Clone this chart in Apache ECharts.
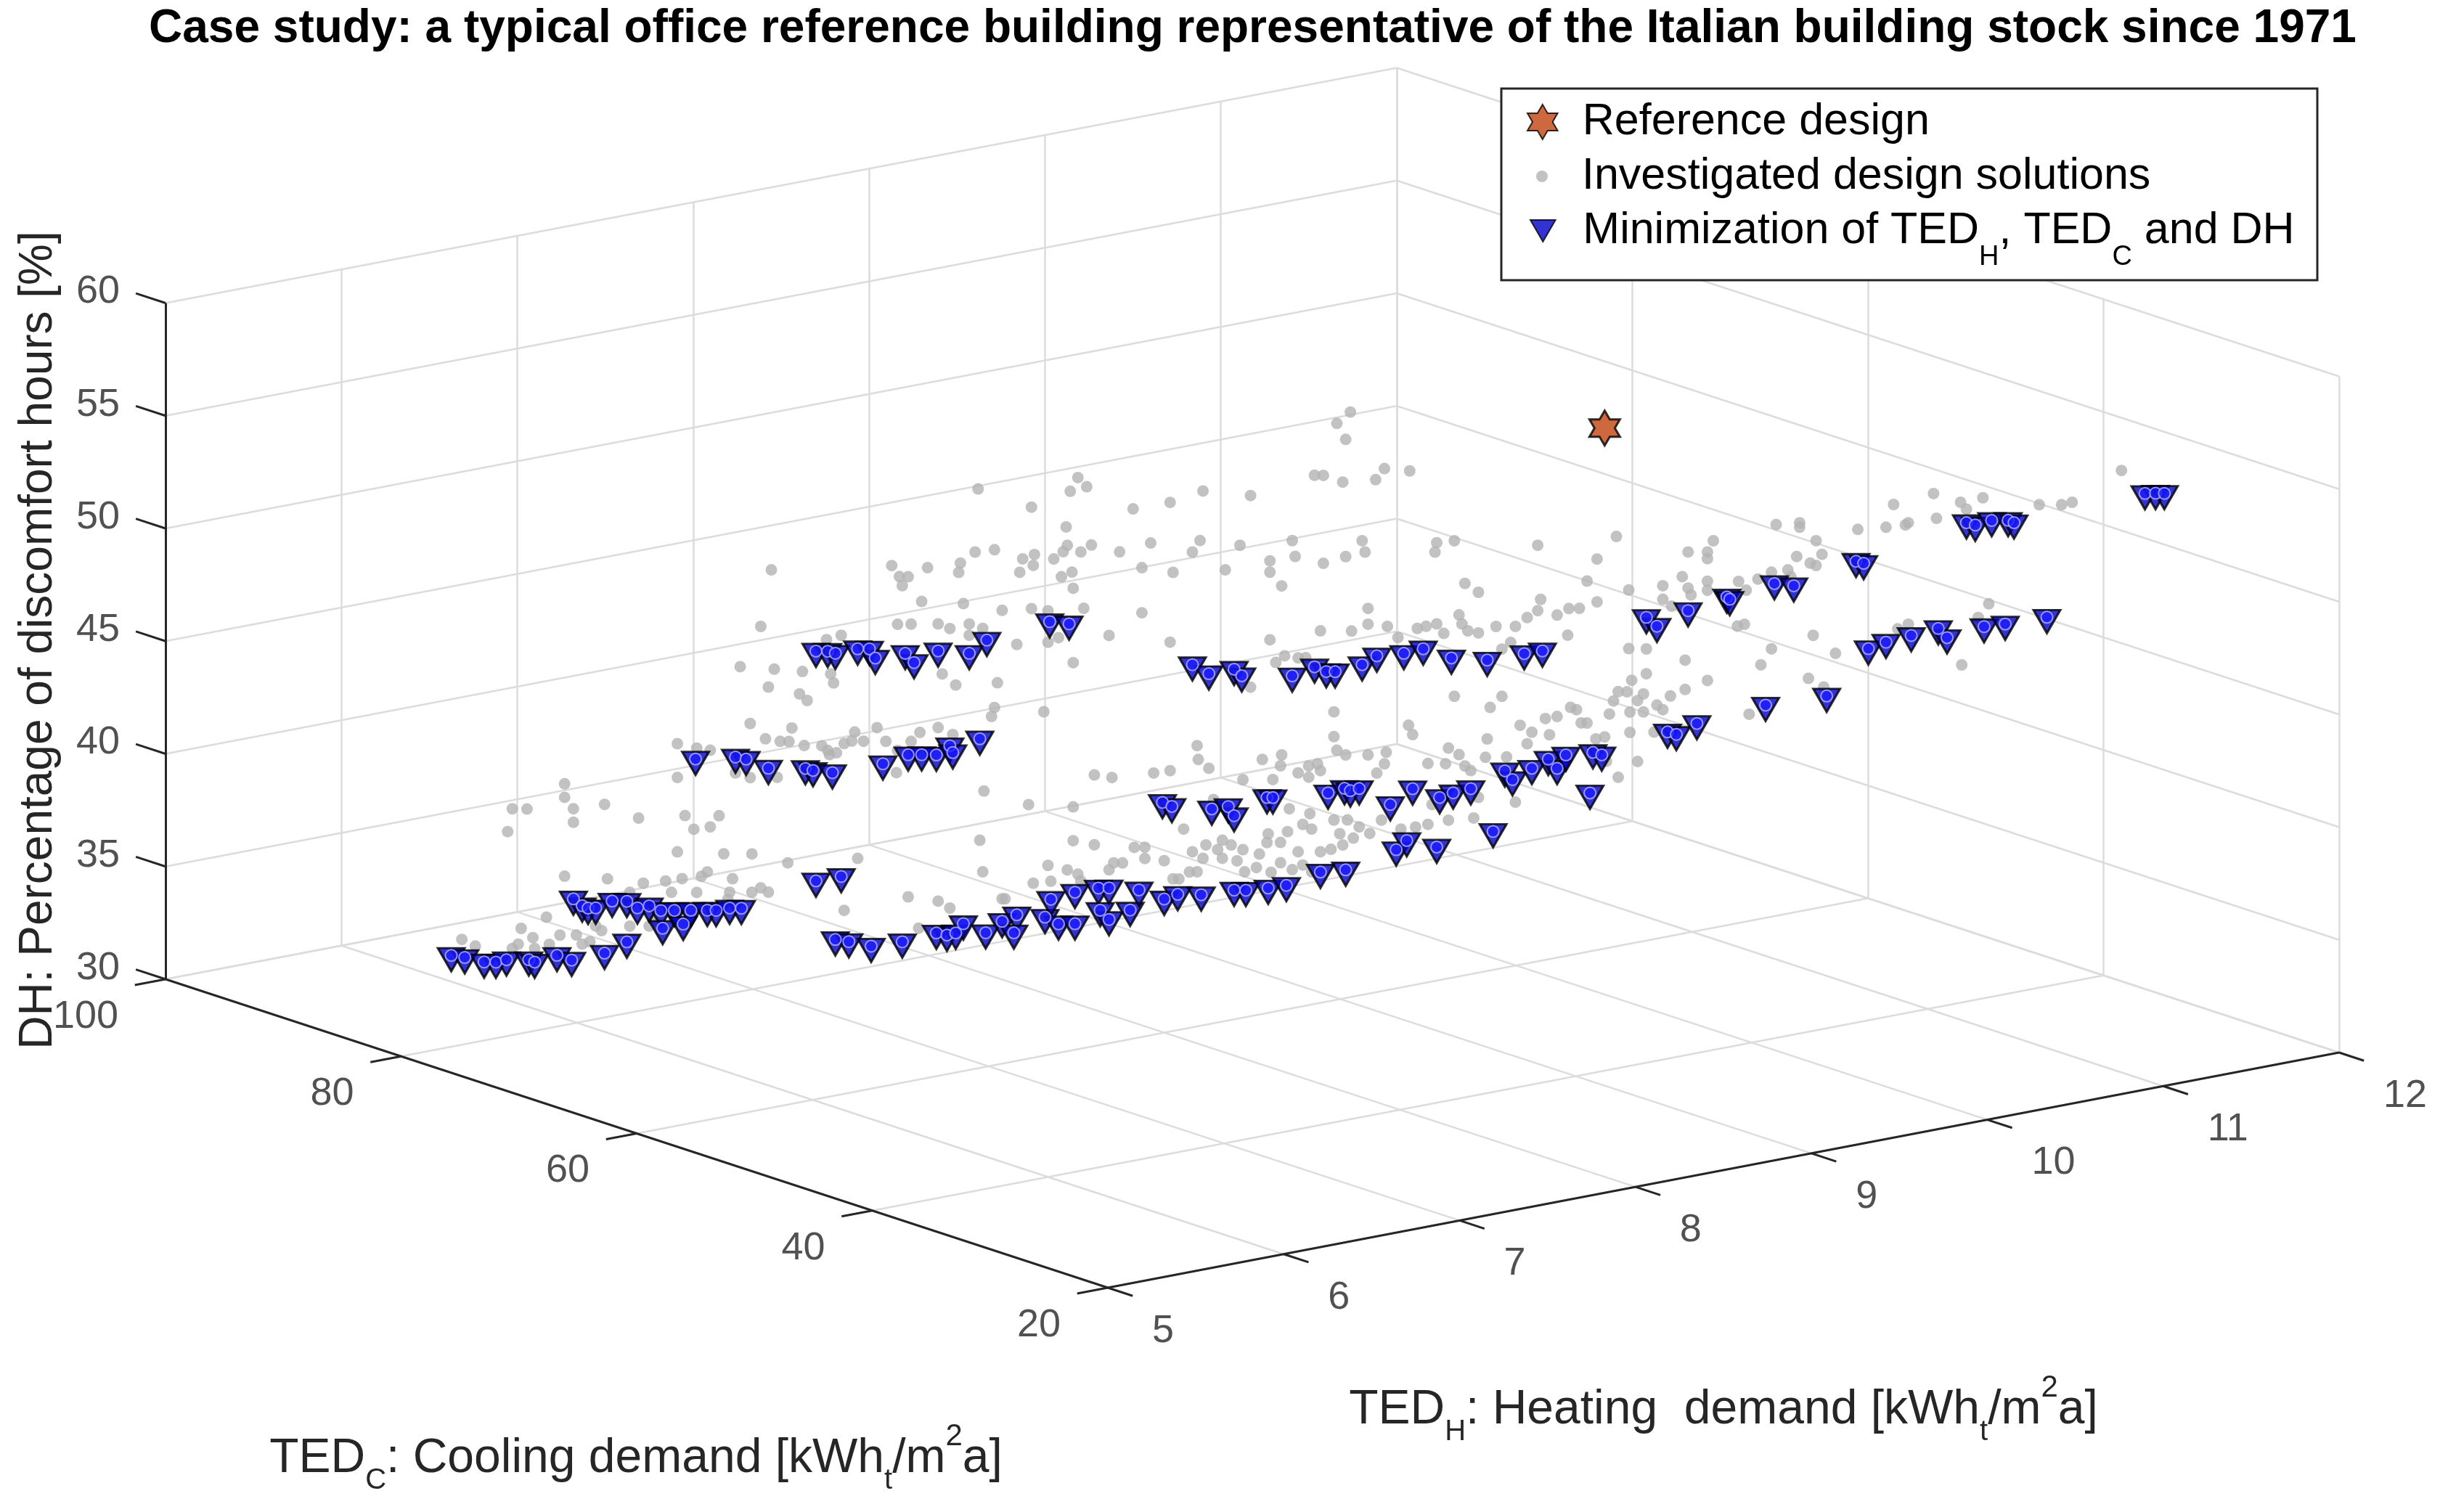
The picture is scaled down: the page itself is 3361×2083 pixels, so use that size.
<!DOCTYPE html>
<html>
<head>
<meta charset="utf-8">
<script src="https://cdn.jsdelivr.net/npm/echarts@6/dist/echarts.min.js"></script>
<style>
html,body{margin:0;padding:0;background:#ffffff;}
#chart{width:3361px;height:2083px;}
</style>
</head>
<body>
<div id="chart"></div>
<script>
// ---------------- data (TED_C [kWh/m2a], TED_H [kWh/m2a], DH [%]) ----------------
const tedCTicks = [20, 40, 60, 80, 100];
const tedHTicks = [5, 6, 7, 8, 9, 10, 11, 12];
const dhTicks = [30, 35, 40, 45, 50, 55, 60];

const referenceDesign = [[48.9, 9.76, 56.1]];

const investigatedSolutions = [
[68.5,7.51,53.4],[68.0,7.57,50.7],[68.6,7.50,50.6],[69.1,7.45,50.1],[69.1,7.44,49.7],[70.1,7.33,49.9],[71.2,7.20,50.0],[71.0,7.23,49.5],
[70.7,7.26,49.5],[70.9,7.24,49.1],[70.3,7.31,48.4],[69.0,7.46,48.3],[67.8,7.60,48.0],[75.0,6.77,49.8],[75.3,6.73,47.3],[71.0,7.22,47.4],
[70.6,7.27,47.4],[69.8,7.37,47.4],[69.4,7.41,47.2],[68.8,7.48,47.4],[68.8,7.48,46.9],[68.4,7.53,47.2],[72.8,7.02,46.9],[73.3,6.97,46.7],
[76.0,6.66,45.5],[74.9,6.78,45.4],[74.0,6.88,45.3],[73.1,6.98,45.2],[73.0,6.99,44.8],[75.1,6.76,44.6],[74.1,6.87,44.3],[73.9,6.90,44.0],
[69.6,7.38,45.2],[69.2,7.43,44.7],[67.9,7.58,44.8],[68.0,7.57,43.7],[68.1,7.56,43.3],[75.6,6.69,43.0],[74.3,6.84,42.8],[75.2,6.75,42.3],
[74.7,6.80,42.2],[74.4,6.83,42.2],[74.0,6.89,42.0],[73.4,6.95,42.0],[73.2,6.98,41.6],[72.9,7.00,41.7],[72.7,7.03,42.1],[72.5,7.06,42.2],
[72.4,7.07,42.6],[72.1,7.10,42.2],[71.7,7.15,42.8],[71.4,7.18,42.2],[71.0,7.22,41.8],[70.6,7.27,42.2],[70.3,7.30,42.6],[69.8,7.37,42.8],
[69.3,7.42,42.5],[73.2,6.97,41.8],[77.9,6.43,42.1],[77.3,6.50,41.9],[76.9,6.55,41.8],[77.9,6.43,40.6],[76.1,6.64,40.8],[75.6,6.69,40.6],
[74.8,6.79,40.6],[71.1,7.22,40.8],[68.3,7.53,40.0],[81.5,6.03,40.3],[81.5,6.03,39.7],[81.2,6.06,39.2],[81.2,6.06,38.6],[83.1,5.84,39.2],
[82.6,5.89,39.2],[83.2,5.82,38.2],[80.2,6.17,39.4],[79.1,6.29,38.8],[77.7,6.46,38.9],[77.4,6.49,38.3],[76.9,6.55,38.4],[76.6,6.58,38.9],
[77.9,6.43,37.3],[76.5,6.60,37.2],[75.6,6.70,37.2],[74.5,6.83,36.8],[72.3,7.08,37.0],[68.5,7.52,37.8],[68.4,7.53,36.4],[81.5,6.03,36.2],
[80.1,6.18,36.1],[79.0,6.31,35.9],[78.3,6.39,36.0],[77.8,6.45,36.1],[77.2,6.52,36.2],[77.0,6.54,36.4],[76.2,6.63,36.1],[77.3,6.50,35.5],
[78.1,6.41,35.5],[79.4,6.26,35.5],[76.3,6.62,35.5],[75.6,6.70,35.5],[75.3,6.73,35.7],[75.1,6.76,35.5],[76.3,6.61,35.2],[70.7,7.26,35.3],
[69.8,7.37,35.1],[69.4,7.41,34.8],[72.7,7.03,34.7],[67.8,7.60,35.2],[70.4,7.30,33.9],[82.0,5.96,34.4],[82.8,5.87,33.9],[82.4,5.91,33.5],
[81.6,6.01,33.6],[81.1,6.07,33.6],[80.9,6.09,33.2],[80.7,6.12,33.3],[80.3,6.16,33.8],[79.4,6.26,34.0],[80.5,6.14,34.0],[78.8,6.33,34.0],
[84.7,5.66,33.4],[84.3,5.71,33.1],[82.9,5.86,33.2],[82.4,5.92,33.0],[81.9,5.97,33.2],[83.1,5.84,33.0],[78.7,6.35,34.2],
[56.9,8.85,56.8],[57.3,8.80,56.3],[57.0,8.83,55.6],[58.0,8.72,54.0],[57.7,8.75,54.0],[57.1,8.82,53.7],[56.1,8.94,53.8],[55.8,8.97,54.3],
[55.0,9.06,54.2],[60.0,8.49,53.1],[61.5,8.32,53.3],[62.5,8.20,52.8],[63.7,8.07,52.5],[65.4,7.87,53.9],[65.1,7.90,53.5],[65.6,7.84,53.3],
[66.8,7.70,52.6],[65.8,7.83,51.7],[65.7,7.83,50.9],[65.9,7.82,50.6],[66.1,7.78,50.3],[66.7,7.71,50.5],[67.1,7.67,50.3],[67.2,7.66,49.7],
[66.8,7.71,50.0],[65.3,7.88,50.6],[65.0,7.92,50.9],[64.1,8.02,50.6],[63.1,8.13,51.0],[63.4,8.10,49.9],[62.4,8.21,49.7],[61.8,8.28,50.6],
[61.6,8.31,51.1],[60.8,8.40,49.8],[60.3,8.45,50.9],[58.7,8.64,51.1],[58.6,8.65,50.4],[59.4,8.56,50.2],[59.4,8.56,49.7],[59.0,8.60,49.1],
[57.7,8.75,50.1],[57.0,8.83,50.4],[56.5,8.89,51.1],[56.4,8.90,50.6],[54.2,9.16,51.0],[54.2,9.15,50.6],[53.6,9.22,51.1],[51.0,9.52,50.9],
[65.6,7.85,49.7],[65.9,7.81,49.5],[65.5,7.85,49.0],[65.2,7.89,48.1],[66.8,7.70,48.1],[66.3,7.76,48.0],[63.4,8.10,47.9],[64.4,7.98,46.9],
[62.5,8.20,46.6],[67.3,7.65,46.5],[66.0,7.80,46.8],[66.3,7.76,46.6],[65.5,7.85,45.7],[53.3,9.26,49.2],[52.9,9.31,48.8],[56.3,8.91,48.1],
[56.3,8.91,47.4],[56.8,8.85,47.1],[57.8,8.74,47.1],[59.4,8.56,46.7],[55.7,8.98,47.3],[55.4,9.02,46.8],[54.8,9.09,47.2],[54.5,9.12,47.3],
[54.2,9.16,47.4],[53.9,9.18,47.0],[53.5,9.24,47.8],[53.4,9.25,47.4],[53.2,9.27,47.1],[52.9,9.31,47.0],[52.3,9.37,47.3],[51.7,9.44,47.3],
[51.3,9.48,47.7],[51.0,9.52,48.0],[50.9,9.53,48.5],[50.4,9.59,47.8],[50.0,9.63,48.1],[50.1,9.63,46.9],[51.8,9.42,46.6],[52.1,9.39,46.3],
[58.9,8.61,46.0],[59.2,8.58,45.7],[58.5,8.66,45.9],[58.3,8.69,45.9],[60.0,8.49,44.6],[53.6,9.22,44.2],[52.1,9.39,44.2],[52.5,9.35,43.7],
[50.4,9.59,43.3],[50.8,9.55,43.2],[50.0,9.64,43.7],[51.6,9.46,42.9],[51.2,9.50,42.6],[50.6,9.56,42.5],[57.4,8.79,43.5],[66.5,7.75,43.5],
[57.4,8.79,42.4],[55.1,9.06,42.9],[54.9,9.07,42.5],[52.6,9.34,42.3],[52.0,9.41,41.5],[52.6,9.33,41.5],[51.3,9.48,42.1],[53.8,9.20,41.9],
[53.5,9.24,41.6],[53.3,9.26,41.1],[53.9,9.19,41.2],[54.5,9.13,41.2],[53.1,9.28,40.9],[52.9,9.31,39.7],[51.7,9.44,39.5],[53.0,9.29,38.8],
[56.3,8.91,41.6],[55.8,8.98,41.7],[55.8,8.97,41.2],[56.0,8.94,40.8],[57.3,8.80,41.8],[57.0,8.83,41.6],[57.9,8.73,41.2],[57.8,8.74,40.9],
[58.2,8.70,41.1],[58.5,8.66,40.8],[58.2,8.70,40.6],[59.0,8.60,41.6],[59.1,8.60,41.1],[59.6,8.53,41.4],[59.3,8.57,40.5],[60.2,8.46,40.5],
[61.7,8.30,42.0],[61.6,8.30,41.4],[61.3,8.34,41.0],[63.0,8.14,40.8],[62.5,8.20,40.9],[64.9,7.93,40.7],[64.3,7.99,40.6],[66.9,7.69,39.4],
[65.5,7.85,39.3],[61.2,8.36,39.6],[58.8,8.63,39.2],[58.1,8.70,39.0],[57.4,8.79,38.7],[57.0,8.84,38.7],[56.6,8.88,38.4],[56.3,8.92,38.1],
[55.9,8.96,38.7],[55.3,9.03,38.3],[54.8,9.08,38.4],[54.5,9.13,38.5],[53.8,9.20,38.7],[54.3,9.14,39.4],[56.8,8.86,37.9],[57.2,8.81,38.1],
[57.5,8.78,37.4],[57.1,8.82,37.6],[58.4,8.68,38.5],[58.1,8.71,38.3],[58.8,8.62,38.2],[59.4,8.55,38.1],[59.5,8.55,37.7],[59.1,8.60,37.7],
[58.5,8.66,37.3],[57.8,8.74,37.3],[58.4,8.68,36.7],[58.7,8.64,36.5],[59.1,8.60,36.8],[59.7,8.52,37.2],[60.2,8.46,37.4],[60.6,8.42,37.6],
[60.9,8.39,37.8],[61.0,8.37,37.4],[61.4,8.33,37.6],[61.8,8.28,37.3],[61.5,8.32,37.0],[60.9,8.39,37.0],[60.4,8.44,36.9],[59.8,8.51,36.6],
[60.2,8.47,36.4],[61.7,8.30,36.4],[61.9,8.27,36.4],[62.1,8.25,38.3],[63.3,8.11,37.5],[63.6,8.07,37.5],[63.3,8.11,37.0],[62.7,8.18,36.9],
[64.0,8.03,36.8],[64.3,8.00,36.8],[64.4,7.98,36.5],[64.9,7.93,37.6],[65.5,7.85,37.8],[66.3,7.76,36.7],[65.7,7.83,36.5],[66.2,7.77,36.0],
[65.4,7.87,36.3],[65.3,7.88,36.0],[66.8,7.71,35.9],[67.7,7.61,35.2],[62.4,8.21,36.1],[62.2,8.23,36.1],[59.3,8.56,36.4],[58.1,8.71,36.4],
[48.5,9.80,51.3],[49.1,9.73,50.3],[49.5,9.70,49.3],[48.2,9.85,48.9],[49.1,9.73,48.4],[49.7,9.67,48.1],[45.5,10.15,51.1],[46.3,10.06,50.6],
[45.7,10.13,50.6],[45.7,10.13,50.3],[46.5,10.04,49.5],[46.3,10.06,49.0],[46.2,10.07,48.7],[45.7,10.13,49.3],[45.7,10.13,48.9],[47.1,9.97,49.1],
[47.1,9.97,48.5],[46.8,10.00,48.2],[44.7,10.24,49.3],[44.5,10.27,48.9],[44.1,10.31,49.4],[43.7,10.36,49.7],[43.2,10.42,49.8],[43.1,10.43,49.5],
[43.6,10.38,51.8],[42.8,10.46,51.9],[42.8,10.46,51.7],[42.3,10.52,51.1],[42.9,10.45,50.4],[42.5,10.50,50.1],[42.1,10.54,50.5],[42.3,10.52,50.0],
[41.0,10.67,51.6],[40.1,10.77,51.7],[39.9,10.80,52.7],[39.5,10.84,51.8],[39.4,10.85,51.9],[38.6,10.94,53.2],[38.5,10.95,52.1],[37.8,11.04,52.8],
[37.6,11.06,52.5],[37.1,11.12,53.0],[35.3,11.32,52.7],[34.6,11.40,52.7],[34.3,11.44,52.8],[32.8,11.62,54.2],[44.8,10.24,47.3],[44.5,10.26,47.4],
[42.4,10.51,46.9],[43.7,10.36,46.3],[41.7,10.59,46.1],[44.0,10.32,45.6],[46.4,10.05,45.8],[48.2,9.85,46.3],[47.6,9.91,46.3],[47.6,9.91,45.2],
[48.1,9.86,44.9],[45.7,10.13,44.9],[46.4,10.05,44.5],[46.9,10.00,44.2],[48.5,9.81,44.4],[48.2,9.84,44.4],[47.9,9.88,44.0],[47.7,9.90,44.3],
[48.6,9.79,44.0],[48.8,9.78,43.4],[48.1,9.85,43.5],[47.7,9.90,43.5],[47.3,9.95,43.8],[47.1,9.97,43.6],[49.8,9.66,43.6],[49.7,9.68,43.0],
[49.5,9.70,43.0],[49.2,9.73,42.3],[48.9,9.76,42.4],[48.9,9.77,41.3],[48.1,9.85,42.6],[47.9,9.88,41.3],[48.5,9.81,40.6],[47.4,9.94,42.6],
[44.4,10.28,43.4],[42.5,10.49,45.0],[42.1,10.55,44.6],[39.7,10.81,47.2],[39.4,10.85,47.4],[36.9,11.14,48.3],[37.2,11.10,47.7],[37.7,11.04,45.6]
];

const minimizationSolutions = [
[73.6,6.93,46.2],[73.2,6.97,46.2],[73.0,7.00,46.1],[72.3,7.08,46.3],[71.9,7.12,46.3],[71.7,7.14,45.9],[70.8,7.25,46.1],[70.5,7.28,45.7],
[69.8,7.37,46.2],[68.8,7.48,46.1],[68.2,7.54,46.7],[77.4,6.50,41.4],[76.1,6.64,41.5],[75.8,6.68,41.4],[75.1,6.76,41.0],[73.9,6.89,41.0],
[73.7,6.92,40.9],[73.1,6.99,40.8],[71.5,7.17,41.2],[70.7,7.26,41.6],[70.3,7.31,41.6],[69.8,7.36,41.6],[69.4,7.41,42.0],[69.3,7.42,41.7],
[68.5,7.52,42.3],[73.6,6.93,36.0],[72.8,7.02,36.2],[81.2,6.06,35.2],[80.9,6.09,34.9],[80.7,6.11,34.8],[80.5,6.14,34.8],[80.0,6.20,35.1],
[79.5,6.25,35.1],[79.2,6.29,34.8],[78.8,6.33,34.9],[78.4,6.37,34.7],[78.4,6.38,33.9],[78.0,6.42,34.7],[77.7,6.45,34.1],[77.5,6.48,34.7],
[77.0,6.54,34.7],[76.7,6.57,34.7],[76.3,6.62,34.8],[75.9,6.66,34.8],[85.0,5.62,32.7],[84.6,5.67,32.6],[84.0,5.74,32.4],[83.6,5.78,32.4],
[83.3,5.82,32.5],[82.6,5.90,32.5],[82.4,5.92,32.4],[81.7,6.00,32.7],[81.2,6.05,32.5],[80.2,6.17,32.8],[79.5,6.25,33.3],[73.0,7.00,33.4],
[72.6,7.05,33.3],[71.9,7.13,33.1],[70.9,7.24,33.3],[69.8,7.36,33.7],[69.5,7.40,33.6],[69.2,7.43,33.7],[69.0,7.46,34.1],[68.3,7.54,33.7],
[67.8,7.60,34.2],[66.3,7.77,47.5],[65.7,7.84,47.4],[61.8,8.28,45.6],[61.3,8.34,45.2],[60.5,8.43,45.4],[60.3,8.46,45.1],[58.7,8.64,45.1],
[58.0,8.72,45.5],[57.6,8.76,45.3],[57.3,8.79,45.3],[56.5,8.89,45.6],[56.0,8.94,46.0],[55.2,9.04,46.1],[54.6,9.11,46.3],[53.7,9.21,45.9],
[52.6,9.34,45.8],[51.4,9.47,46.1],[50.9,9.54,46.2],[62.7,8.17,39.5],[62.5,8.21,39.3],[61.2,8.35,39.2],[60.7,8.41,39.3],[60.5,8.43,38.9],
[59.5,8.55,39.7],[59.3,8.57,39.7],[57.6,8.77,39.9],[57.1,8.83,40.1],[56.9,8.85,40.0],[56.6,8.88,40.1],[55.6,8.99,39.4],[54.9,9.07,40.1],
[54.1,9.17,39.7],[53.7,9.22,39.9],[53.1,9.28,40.1],[52.0,9.40,40.9],[51.8,9.43,40.5],[51.2,9.50,41.0],[50.7,9.56,41.4],[50.4,9.59,41.0],
[50.1,9.62,41.6],[55.4,9.01,37.4],[55.1,9.05,37.8],[54.2,9.16,37.5],[52.4,9.36,38.2],[57.8,8.74,36.4],[57.0,8.83,36.5],[67.3,7.65,34.5],
[67.4,7.64,33.7],[66.4,7.75,34.4],[66.2,7.77,35.2],[66.0,7.80,34.1],[65.5,7.86,35.5],[65.5,7.86,34.1],[64.7,7.94,35.7],[64.4,7.98,35.7],
[64.7,7.95,34.7],[64.4,7.98,34.3],[63.8,8.06,34.7],[63.5,8.09,35.6],[62.7,8.18,35.2],[62.3,8.23,35.4],[61.5,8.31,35.4],[60.5,8.43,35.6],
[60.1,8.47,35.6],[59.4,8.55,35.7],[58.9,8.62,35.8],[37.6,11.06,51.9],[37.3,11.09,51.8],[36.8,11.15,52.0],[36.3,11.21,52.0],[36.1,11.23,51.9],
[41.0,10.66,50.2],[40.8,10.69,50.1],[43.6,10.37,49.2],[43.0,10.44,49.1],[45.1,10.20,48.6],[45.0,10.21,48.5],[46.3,10.06,48.0],[47.6,9.91,47.7],
[47.3,9.95,47.3],[49.4,9.71,39.9],[49.3,9.72,41.7],[49.0,9.75,41.6],[47.0,9.99,42.6],[46.7,10.02,42.5],[46.0,10.09,43.0],[43.9,10.34,43.8],
[42.0,10.56,44.2],[40.7,10.71,46.3],[40.1,10.77,46.6],[39.3,10.86,46.9],[38.5,10.96,47.2],[38.2,10.99,46.8],[37.0,11.12,47.3],[36.4,11.20,47.4],
[35.1,11.35,47.7],[32.0,11.70,53.2],[31.7,11.74,53.2],[31.4,11.77,53.2]
];

// ---------------- layout / style ----------------
const FONT = "'Liberation Sans', Arial, Helvetica, sans-serif";
const AXIS_COLOR = '#262626';
const GRID_COLOR = '#dcdcdc';
const RANGE = { c: [20, 100], h: [5, 12], z: [30, 60] };
// orthographic view of the 3D box: screen position of corner (C=20,H=5,DH=30) and the span vector of each axis
const VIEW = { origin: [1526, 1774], c: [-1298, -425], h: [1696, -324], z: [0, -931.5] };
const MIN_NAME = 'Minimization of TED_H, TED_C and DH';
const HEXAGRAM = 'path://M100 0L128.87 50L186.6 50L157.74 100L186.6 150L128.87 150L100 200L71.13 150L13.4 150L42.26 100L13.4 50L71.13 50Z';
const DOWN_TRIANGLE = 'path://M0 0L200 0L100 173.2Z';

function proj(C, H, D) {
  const c = (C - RANGE.c[0]) / (RANGE.c[1] - RANGE.c[0]);
  const h = (H - RANGE.h[0]) / (RANGE.h[1] - RANGE.h[0]);
  const z = (D - RANGE.z[0]) / (RANGE.z[1] - RANGE.z[0]);
  return [VIEW.origin[0] + c * VIEW.c[0] + h * VIEW.h[0] + z * VIEW.z[0],
          VIEW.origin[1] + c * VIEW.c[1] + h * VIEW.h[1] + z * VIEW.z[1]];
}
function seg(a, b) { return { coords: [proj(a[0], a[1], a[2]), proj(b[0], b[1], b[2])] }; }
function unit(v) { const l = Math.hypot(v[0], v[1]); return [v[0] / l, v[1] / l]; }
function move(p, u, len) { return [p[0] + u[0] * len, p[1] + u[1] * len]; }
const uC = unit(VIEW.c), uH = unit(VIEW.h);
const C0 = RANGE.c[0], C1 = RANGE.c[1], H0 = RANGE.h[0], H1 = RANGE.h[1], Z0 = RANGE.z[0], Z1 = RANGE.z[1];

// grid lines on the back walls and floor
const gridSegs = [];
tedHTicks.forEach(h => gridSegs.push(seg([C1, h, Z0], [C1, h, Z1])));
dhTicks.forEach(z => gridSegs.push(seg([C1, H0, z], [C1, H1, z])));
tedCTicks.forEach(c => gridSegs.push(seg([c, H1, Z0], [c, H1, Z1])));
dhTicks.forEach(z => gridSegs.push(seg([C0, H1, z], [C1, H1, z])));
tedCTicks.forEach(c => gridSegs.push(seg([c, H0, Z0], [c, H1, Z0])));
tedHTicks.forEach(h => gridSegs.push(seg([C0, h, Z0], [C1, h, Z0])));

// axis lines and tick marks
const axisSegs = [seg([C1, H0, Z0], [C1, H0, Z1]), seg([C0, H0, Z0], [C1, H0, Z0]), seg([C0, H0, Z0], [C0, H1, Z0])];
dhTicks.forEach(z => { const p = proj(C1, H0, z); axisSegs.push({ coords: [p, move(p, uC, 43)] }); });
tedCTicks.forEach(c => { const p = proj(c, H0, Z0); axisSegs.push({ coords: [p, move(p, uH, -43)] }); });
tedHTicks.forEach(h => { const p = proj(C0, h, Z0); axisSegs.push({ coords: [p, move(p, uC, -36)] }); });

const zLabels = dhTicks.map(z => { const p = proj(C1, H0, z); return [p[0] - 63, p[1] - 15, z]; });
const cLabels = tedCTicks.map(c => { const p = proj(c, H0, Z0); return [p[0] - 65, p[1] + 52, c]; });
const hLabels = tedHTicks.map(h => { const p = proj(C0, h, Z0); return [p[0] + 61, p[1] + 60, h]; });

function tickLabelSeries(data, align) {
  return {
    type: 'scatter', data: data, symbol: 'circle', symbolSize: 0.1, silent: true, z: 3,
    itemStyle: { color: 'rgba(0,0,0,0)' },
    label: { show: true, position: 'inside', align: align, verticalAlign: 'middle',
      formatter: p => String(p.value[2]), fontSize: 54, fontFamily: FONT, color: AXIS_COLOR }
  };
}

// sub/superscripts: shifted by half of the one-sided padding
const LABEL_RICH = {
  n: { fontSize: 66, fontFamily: FONT, fill: AXIS_COLOR, lineHeight: 80 },
  s: { fontSize: 40, fontFamily: FONT, fill: AXIS_COLOR, lineHeight: 40, padding: [60, 0, 0, 0] },
  p: { fontSize: 42, fontFamily: FONT, fill: AXIS_COLOR, lineHeight: 42, padding: [0, 0, 62, 0] }
};
const LEGEND_TEXT = { fontSize: 61, fontFamily: FONT, color: '#000', lineHeight: 75 };
const ICON_CENTER_X = 2124;

const chart = echarts.init(document.getElementById('chart'), null, { renderer: 'canvas' });
chart.setOption({
  animation: false,
  backgroundColor: '#ffffff',
  title: {
    text: 'Case study: a typical office reference building representative of the Italian building stock since 1971',
    left: 205, top: 8, padding: 0,
    textStyle: { fontSize: 64, fontWeight: 'bold', fontFamily: FONT, color: '#000' }
  },
  grid: { left: 0, right: 0, top: 0, bottom: 0, containLabel: false },
  xAxis: { type: 'value', min: 0, max: 3361, show: false },
  yAxis: { type: 'value', min: 0, max: 2083, inverse: true, show: false },
  legend: [
    { data: ['Reference design'], left: ICON_CENTER_X - 21, top: 130.5, orient: 'vertical', padding: 0, itemWidth: 100, itemHeight: 48,
      selectedMode: false, z: 12, textStyle: LEGEND_TEXT },
    { data: ['Investigated design solutions'], left: ICON_CENTER_X - 8, top: 205.5, orient: 'vertical', padding: 0, itemWidth: 100, itemHeight: 16,
      selectedMode: false, z: 12, textStyle: LEGEND_TEXT },
    { data: [MIN_NAME], left: ICON_CENTER_X - 17, top: 262, orient: 'vertical', padding: 0, itemWidth: 100, itemHeight: 30,
      selectedMode: false, z: 12,
      formatter: () => '{n|Minimization of TED}{s|H}{n|, TED}{s|C}{n| and DH}',
      textStyle: Object.assign({}, LEGEND_TEXT, { rich: {
        n: { fontSize: 61, fontFamily: FONT, color: '#000', lineHeight: 75 },
        s: { fontSize: 38, fontFamily: FONT, color: '#000', lineHeight: 38, padding: [74, 0, 0, 0] }
      } }) }
  ],
  graphic: [
    { type: 'rect', silent: true, z: 8, shape: { x: 2068, y: 122, width: 1124, height: 264 },
      style: { fill: '#ffffff', stroke: AXIS_COLOR, lineWidth: 3 } },
    { type: 'text', silent: true, x: 2374, y: 1943,
      style: { text: '{n|TED}{s|H}{n|: Heating  demand [kWh}{s|t}{n|/m}{p|2}{n|a]}', rich: LABEL_RICH,
        fontSize: 66, fontFamily: FONT, fill: AXIS_COLOR, align: 'center', verticalAlign: 'middle' } },
    { type: 'text', silent: true, x: 876, y: 2010,
      style: { text: '{n|TED}{s|C}{n|: Cooling demand [kWh}{s|t}{n|/m}{p|2}{n|a]}', rich: LABEL_RICH,
        fontSize: 66, fontFamily: FONT, fill: AXIS_COLOR, align: 'center', verticalAlign: 'middle' } },
    { type: 'text', silent: true, x: 53, y: 882, rotation: Math.PI / 2,
      style: { text: 'DH: Percentage of discomfort hours [%]', fontSize: 64, fontFamily: FONT, fill: AXIS_COLOR,
        align: 'center', verticalAlign: 'middle' } }
  ],
  series: [
    { type: 'lines', coordinateSystem: 'cartesian2d', data: gridSegs, silent: true, z: 1,
      lineStyle: { color: GRID_COLOR, width: 2.5, opacity: 1, curveness: 0 } },
    { type: 'lines', coordinateSystem: 'cartesian2d', data: axisSegs, silent: true, z: 2,
      lineStyle: { color: AXIS_COLOR, width: 3, opacity: 1, curveness: 0 } },
    tickLabelSeries(zLabels, 'right'),
    tickLabelSeries(cLabels, 'right'),
    tickLabelSeries(hLabels, 'left'),
    { name: 'Investigated design solutions', type: 'scatter', z: 4, silent: true,
      data: investigatedSolutions.map(d => proj(d[0], d[1], d[2])),
      symbol: 'circle', symbolSize: 16, itemStyle: { color: '#b3b3b3' } },
    { name: MIN_NAME, type: 'scatter', z: 5, silent: true,
      data: minimizationSolutions.map(d => proj(d[0], d[1], d[2])),
      symbol: DOWN_TRIANGLE, symbolSize: [37, 32], symbolOffset: [0, 6], symbolKeepAspect: false,
      itemStyle: { color: '#0000c8', borderColor: '#000000', borderWidth: 3 } },
    { name: 'minimization markers', type: 'scatter', z: 6, silent: true,
      data: minimizationSolutions.map(d => proj(d[0], d[1], d[2])),
      symbol: 'circle', symbolSize: 16, itemStyle: { color: '#1a1aff', borderColor: '#b4b4ff', borderWidth: 2 } },
    { name: 'Reference design', type: 'scatter', z: 7, silent: true,
      data: referenceDesign.map(d => proj(d[0], d[1], d[2])),
      symbol: HEXAGRAM, symbolSize: [42, 48],
      itemStyle: { color: '#c0420f', borderColor: '#000000', borderWidth: 3 } }
  ]
});
</script>
</body>
</html>
